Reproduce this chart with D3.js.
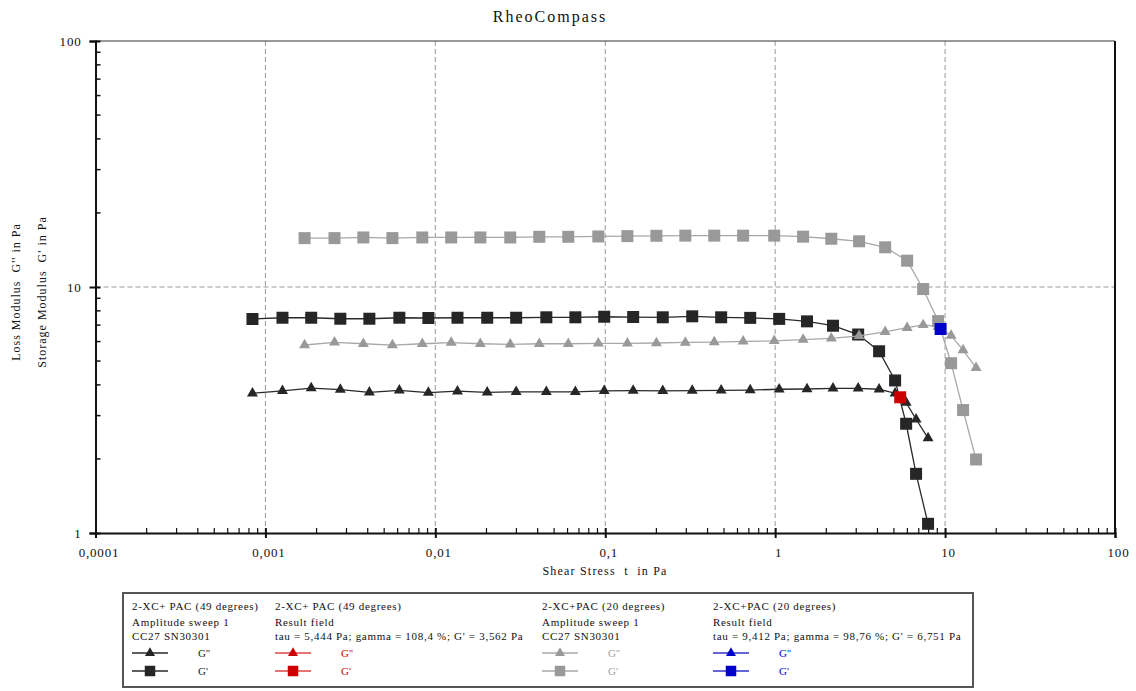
<!DOCTYPE html>
<html>
<head>
<meta charset="utf-8">
<script src="https://cdn.jsdelivr.net/npm/d3@7"></script>
<style>
  html, body { margin: 0; padding: 0; background: #fff; }
  svg text { font-family: "Liberation Serif", "DejaVu Serif", serif; white-space: pre; }
</style>
</head>
<body>
<svg id="chart" width="1136" height="691"></svg>
<script>
// Amplitude sweep, 2-XC+PAC at 49 degrees (dark series)
const stress49 = [0.000839, 0.00126, 0.00186, 0.00276, 0.00409, 0.00614, 0.0091, 0.0135, 0.0202, 0.0299,
  0.0450, 0.0667, 0.0986, 0.146, 0.218, 0.325, 0.481, 0.713, 1.056, 1.54, 2.19, 3.08, 4.09, 5.08, 5.90, 6.75, 7.94];
const gStorage49 = [7.41, 7.50, 7.50, 7.43, 7.43, 7.50, 7.48, 7.50, 7.50, 7.50, 7.53, 7.53, 7.57, 7.55, 7.53,
  7.60, 7.53, 7.49, 7.42, 7.25, 6.96, 6.41, 5.48, 4.17, 2.78, 1.74, 1.09];
const gLoss49 = [3.70, 3.78, 3.88, 3.83, 3.73, 3.80, 3.72, 3.77, 3.73, 3.75, 3.75, 3.75, 3.78, 3.79, 3.78,
  3.79, 3.80, 3.81, 3.84, 3.85, 3.87, 3.87, 3.84, 3.70, 3.39, 2.90, 2.43];

// Amplitude sweep, 2-XC+PAC at 20 degrees (grey series)
const stress20 = [0.00170, 0.00255, 0.00377, 0.00559, 0.00838, 0.0124, 0.0184, 0.0276, 0.0409, 0.0606,
  0.0910, 0.135, 0.200, 0.296, 0.438, 0.648, 0.987, 1.46, 2.14, 3.12, 4.44, 5.98, 7.43, 9.10, 10.85, 12.76, 15.22];
const gStorage20 = [15.8, 15.8, 15.9, 15.8, 15.9, 15.9, 15.9, 15.9, 16.0, 16.0, 16.05, 16.1, 16.15, 16.17,
  16.17, 16.17, 16.17, 16.02, 15.71, 15.34, 14.5, 12.79, 9.81, 7.27, 4.90, 3.16, 1.99];
const gLoss20 = [5.81, 5.96, 5.88, 5.80, 5.88, 5.94, 5.88, 5.85, 5.88, 5.88, 5.90, 5.90, 5.92, 5.95, 5.97,
  6.01, 6.04, 6.11, 6.18, 6.33, 6.57, 6.83, 7.01, 6.90, 6.34, 5.54, 4.69];

// Result-field points (crossover evaluation)
const result49 = { tau: 5.444, g: 3.562 };
const result20 = { tau: 9.412, g: 6.751 };

// Axis ticks
const xMajor = [0.0001, 0.001, 0.01, 0.1, 1, 10, 100];
const xMajorLabels = ["0,0001", "0,001", "0,01", "0,1", "1", "10", "100"];
const yMajor = [1, 10, 100];
const yMajorLabels = ["1", "10", "100"];

// Legend contents
const legendColumns = [
  { lines: ["2-XC+ PAC (49 degrees)", "Amplitude sweep 1", "CC27 SN30301"], key: "dark" },
  { lines: ["2-XC+ PAC (49 degrees)", "Result field", "tau = 5,444 Pa; gamma = 108,4 %; G' = 3,562 Pa"], key: "red" },
  { lines: ["2-XC+PAC (20 degrees)", "Amplitude sweep 1", "CC27 SN30301"], key: "grey" },
  { lines: ["2-XC+PAC (20 degrees)", "Result field", "tau = 9,412 Pa; gamma = 98,76 %; G' = 6,751 Pa"], key: "blue" }
];

const palette = {
  dark: { mark: "#262626", line: "#2a2a2a", text: "#222" },
  red:  { mark: "#cc0000", line: "#dd4444", text: "#cc0000" },
  grey: { mark: "#999999", line: "#a8a8a8", text: "#a0a0a0" },
  blue: { mark: "#0000cc", line: "#3333cc", text: "#0000cc" }
};

const svg = d3.select("#chart");
const x = d3.scaleLog().domain([0.0001, 100]).range([95.5, 1115]);
const y = d3.scaleLog().domain([1, 100]).range([533, 41]);

// Title
svg.append("text").attr("x", 550).attr("y", 22).attr("text-anchor", "middle")
  .attr("font-size", 16).attr("letter-spacing", 2).attr("fill", "#111").text("RheoCompass");

// Grid
const gridX = [0.001, 0.01, 0.1, 1, 10];
svg.append("g").selectAll("line").data(gridX).join("line")
  .attr("x1", d => x(d)).attr("x2", d => x(d)).attr("y1", y(100)).attr("y2", y(1))
  .attr("stroke", "#9a9a9a").attr("stroke-dasharray", "5,3").attr("stroke-width", 1);
svg.append("line").attr("x1", x(0.0001)).attr("x2", x(100)).attr("y1", y(10)).attr("y2", y(10))
  .attr("stroke", "#9a9a9a").attr("stroke-dasharray", "5,3").attr("stroke-width", 1);

// Frame: top and right borders
svg.append("line").attr("x1", x(0.0001)).attr("x2", x(100)).attr("y1", y(100)).attr("y2", y(100))
  .attr("stroke", "#333").attr("stroke-width", 1);
svg.append("line").attr("x1", x(100)).attr("x2", x(100)).attr("y1", y(100)).attr("y2", y(1))
  .attr("stroke", "#111").attr("stroke-width", 2);

// Minor tick values for each decade
function minors(lo, hi) {
  const out = [];
  for (let p = lo; p < hi; p *= 10) for (let k = 2; k <= 9; k++) out.push(p * k);
  return out;
}

// X axis
const xAxis = svg.append("g").attr("transform", `translate(0,${y(1)})`)
  .call(d3.axisBottom(x).tickValues(xMajor).tickFormat((d, i) => xMajorLabels[i]).tickSize(5).tickPadding(10));
xAxis.select(".domain").attr("stroke", "#111").attr("stroke-width", 2);
xAxis.selectAll(".tick line").attr("y1", -5).attr("y2", 5).attr("stroke", "#111").attr("stroke-width", 2);
xAxis.selectAll(".tick text").attr("font-family", "Liberation Serif").attr("font-size", 13)
  .attr("letter-spacing", 0.8).attr("fill", "#111").attr("dx", 3);
svg.append("g").selectAll("line").data(minors(0.0001, 100)).join("line")
  .attr("x1", d => x(d)).attr("x2", d => x(d)).attr("y1", y(1)).attr("y2", y(1) - 5)
  .attr("stroke", "#111").attr("stroke-width", 1.2);

// Y axis
const yAxis = svg.append("g").attr("transform", `translate(${x(0.0001)},0)`)
  .call(d3.axisLeft(y).tickValues(yMajor).tickFormat((d, i) => yMajorLabels[i]).tickSize(6).tickPadding(8));
yAxis.select(".domain").attr("stroke", "#111").attr("stroke-width", 2);
yAxis.selectAll(".tick line").attr("x1", -6).attr("x2", 5).attr("stroke", "#111").attr("stroke-width", 2);
yAxis.selectAll(".tick text").attr("font-family", "Liberation Serif").attr("font-size", 13)
  .attr("letter-spacing", 0.8).attr("fill", "#111");
svg.append("g").selectAll("line").data(minors(1, 100)).join("line")
  .attr("x1", x(0.0001)).attr("x2", x(0.0001) + 5).attr("y1", d => y(d)).attr("y2", d => y(d))
  .attr("stroke", "#111").attr("stroke-width", 1.5);

// Axis titles
svg.append("text").attr("x", 605).attr("y", 575).attr("text-anchor", "middle")
  .attr("font-size", 12).attr("letter-spacing", 1.2).attr("fill", "#111").text("Shear Stress  t  in Pa");
svg.append("text").attr("transform", "translate(20,292) rotate(-90)").attr("text-anchor", "middle")
  .attr("font-size", 12).attr("letter-spacing", 1).attr("fill", "#111").text("Loss Modulus  G'' in Pa");
svg.append("text").attr("transform", "translate(46,292) rotate(-90)").attr("text-anchor", "middle")
  .attr("font-size", 12).attr("letter-spacing", 1).attr("fill", "#111").text("Storage Modulus  G' in Pa");

// Series drawing
const lineGen = d3.line().x(d => x(d[0])).y(d => y(d[1]));
const triangle = d3.symbol().type(d3.symbolTriangle).size(52);
const square = d3.symbol().type(d3.symbolSquare).size(144);

function drawSeries(xs, ys, shape, colors) {
  const pts = xs.map((v, i) => [v, ys[i]]);
  const g = svg.append("g");
  g.append("path").datum(pts).attr("d", lineGen).attr("fill", "none")
    .attr("stroke", colors.line).attr("stroke-width", 1.3);
  g.selectAll("path.m").data(pts).join("path").attr("class", "m")
    .attr("transform", d => `translate(${x(d[0])},${y(d[1])})`)
    .attr("d", shape).attr("fill", colors.mark);
}

drawSeries(stress49, gLoss49, triangle, palette.dark);
drawSeries(stress49, gStorage49, square, palette.dark);
drawSeries(stress20, gLoss20, triangle, palette.grey);
drawSeries(stress20, gStorage20, square, palette.grey);

[[result49, palette.red], [result20, palette.blue]].forEach(([r, c]) => {
  svg.append("path").attr("transform", `translate(${x(r.tau)},${y(r.g)})`)
    .attr("d", square).attr("fill", c.mark);
});

// Legend
const legend = svg.append("g");
legend.append("rect").attr("x", 123).attr("y", 593).attr("width", 850).attr("height", 94)
  .attr("fill", "#fff").attr("stroke", "#555").attr("stroke-width", 2);
const colX = [132, 275, 542, 713];
const textRows = [610, 626, 640];
const symRows = [653, 671];
const legTri = d3.symbol().type(d3.symbolTriangle).size(44);
const legSq = d3.symbol().type(d3.symbolSquare).size(110);

legendColumns.forEach((col, ci) => {
  const cx = colX[ci];
  const c = palette[col.key];
  col.lines.forEach((t, ri) => {
    legend.append("text").attr("x", cx).attr("y", textRows[ri]).attr("font-size", 11)
      .attr("letter-spacing", 0.7).attr("fill", "#111").text(t);
  });
  [[legTri, "G''"], [legSq, "G'"]].forEach(([shape, label], si) => {
    const yy = symRows[si];
    legend.append("line").attr("x1", cx).attr("x2", cx + 36).attr("y1", yy).attr("y2", yy)
      .attr("stroke", c.line).attr("stroke-width", 1.3);
    legend.append("path").attr("transform", `translate(${cx + 18},${yy})`).attr("d", shape).attr("fill", c.mark);
    legend.append("text").attr("x", cx + 66).attr("y", yy + 4).attr("font-size", 11)
      .attr("fill", c.text).text(label);
  });
});
</script>
</body>
</html>
